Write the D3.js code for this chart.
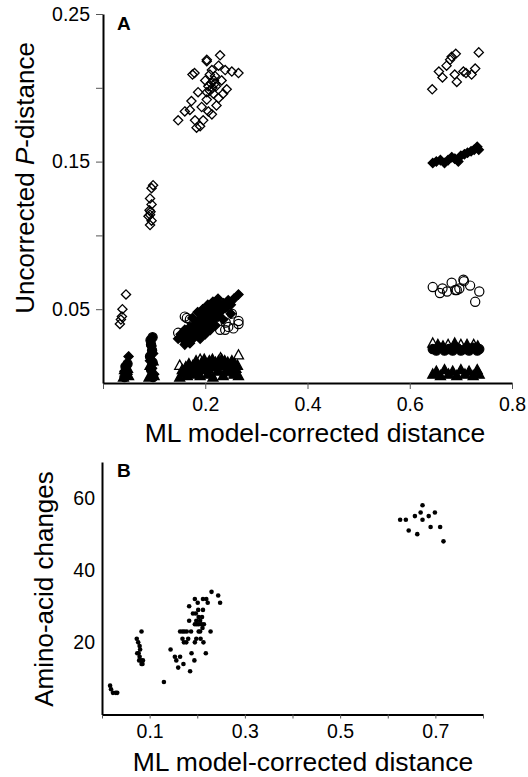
<!DOCTYPE html>
<html lang="en">
<head>
  <meta charset="UTF-8">
  <style>
    body { margin: 0; background: #fff; }
    svg { display: block; }
    text { font-family: "Liberation Sans", Arial, Helvetica, sans-serif; fill: #000; }
    .axis path.domain { stroke: #000; stroke-width: 2; }
    .axis .tick line { stroke: #555; stroke-width: 1; }
    .axis .tick text { font-size: 19.5px; }
  </style>
  <script src="https://d3js.org/d3.v7.min.js"></script>
</head>
<body>
  <svg id="chart" width="528" height="777"></svg>

  <script>
    // ---- Panel A data: [ML distance, uncorrected P-distance]
    const openDiamonds = [
      [0.035,0.043],[0.033,0.040],[0.037,0.045],[0.038,0.050],[0.045,0.060],
      [0.098,0.134],[0.095,0.132],[0.092,0.125],[0.095,0.121],[0.091,0.117],
      [0.093,0.116],[0.092,0.114],[0.089,0.113],[0.095,0.110],[0.092,0.107],
      [0.147,0.178],[0.160,0.184],[0.179,0.210],[0.203,0.218],[0.229,0.222],
      [0.265,0.210],[0.252,0.211],[0.183,0.173],[0.196,0.178],[0.213,0.182],
      [0.186,0.197],[0.173,0.191],[0.206,0.201],[0.219,0.203],[0.232,0.205],
      [0.242,0.199],[0.226,0.215],[0.213,0.212],[0.239,0.212],[0.200,0.205],
      [0.193,0.187],[0.206,0.184],[0.203,0.192],[0.226,0.193],[0.216,0.196],
      [0.180,0.178],[0.190,0.174],[0.170,0.185],[0.219,0.208],[0.209,0.209],
      [0.235,0.196],[0.222,0.188],[0.203,0.197],[0.203,0.219],[0.175,0.209],
      [0.211,0.203],[0.214,0.200],[0.217,0.205],[0.209,0.198],[0.221,0.201],
      [0.644,0.199],[0.657,0.211],[0.664,0.207],[0.672,0.215],[0.679,0.219],
      [0.682,0.221],[0.690,0.223],[0.688,0.209],[0.692,0.204],[0.705,0.211],
      [0.710,0.210],[0.721,0.209],[0.728,0.213],[0.735,0.224]
    ];
    const filledDiamonds = [
      [0.045,0.012],[0.050,0.018],[0.042,0.008],[0.048,0.006],
      [0.095,0.025],[0.098,0.020],[0.092,0.015],[0.096,0.010],[0.100,0.006],
      [0.147,0.030],[0.152,0.033],[0.158,0.029],[0.160,0.036],[0.165,0.032],
      [0.168,0.028],[0.170,0.038],[0.174,0.034],[0.176,0.030],[0.180,0.040],
      [0.183,0.036],[0.185,0.032],[0.188,0.043],[0.190,0.039],[0.192,0.035],
      [0.195,0.045],[0.197,0.041],[0.199,0.037],[0.201,0.047],[0.203,0.043],
      [0.205,0.039],[0.207,0.049],[0.209,0.045],[0.211,0.041],[0.213,0.051],
      [0.215,0.047],[0.218,0.043],[0.220,0.052],[0.223,0.048],[0.226,0.045],
      [0.229,0.053],[0.232,0.049],[0.236,0.054],[0.240,0.051],[0.245,0.056],
      [0.250,0.053],[0.256,0.057],[0.265,0.060],[0.175,0.044],[0.185,0.048],
      [0.195,0.050],[0.205,0.053],[0.215,0.055],[0.225,0.057],[0.190,0.030],
      [0.200,0.033],[0.210,0.036],[0.220,0.039],[0.235,0.043],[0.250,0.047],
      [0.160,0.026],[0.170,0.027],
      [0.645,0.149],[0.652,0.150],[0.660,0.151],[0.668,0.149],[0.675,0.151],
      [0.682,0.153],[0.688,0.152],[0.695,0.150],[0.700,0.154],[0.707,0.155],
      [0.713,0.156],[0.720,0.157],[0.726,0.158],[0.732,0.160],[0.735,0.158]
    ];
    const openCircles = [
      [0.147,0.034],[0.160,0.045],[0.164,0.044],[0.170,0.043],[0.229,0.036],
      [0.245,0.038],[0.265,0.042],[0.255,0.037],[0.239,0.036],[0.252,0.047],
      [0.265,0.040],[0.240,0.041],
      [0.645,0.065],[0.659,0.061],[0.664,0.064],[0.673,0.062],[0.682,0.068],
      [0.689,0.063],[0.692,0.063],[0.697,0.064],[0.705,0.070],[0.706,0.069],
      [0.718,0.066],[0.728,0.055],[0.736,0.062]
    ];
    const filledCircles = [
      [0.042,0.004],[0.046,0.007],[0.044,0.011],[0.048,0.013],
      [0.093,0.029],[0.097,0.031],[0.094,0.026],[0.096,0.022],[0.092,0.018],
      [0.097,0.014],[0.094,0.009],[0.098,0.004],
      [0.165,0.007],[0.185,0.009],[0.205,0.008],[0.225,0.010],[0.245,0.008],
      [0.645,0.023],[0.652,0.022],[0.660,0.024],[0.668,0.022],[0.676,0.023],
      [0.684,0.022],[0.692,0.024],[0.700,0.022],[0.708,0.023],[0.716,0.022],
      [0.724,0.024],[0.732,0.022],[0.736,0.023]
    ];
    const openTriangles = [
      [0.150,0.012],[0.190,0.016],[0.230,0.017],[0.265,0.019],
      [0.645,0.027],[0.675,0.026],[0.700,0.026],[0.725,0.026]
    ];
    const filledTriangles = [
      [0.040,0.004],[0.045,0.006],[0.050,0.005],[0.048,0.010],[0.042,0.009],
      [0.090,0.004],[0.095,0.006],[0.100,0.005],[0.092,0.012],[0.098,0.015],
      [0.150,0.004],[0.158,0.007],[0.165,0.005],[0.172,0.010],[0.178,0.006],
      [0.185,0.012],[0.190,0.005],[0.196,0.009],[0.200,0.013],[0.205,0.006],
      [0.210,0.011],[0.215,0.004],[0.220,0.014],[0.225,0.008],[0.230,0.012],
      [0.235,0.005],[0.240,0.013],[0.245,0.009],[0.250,0.012],[0.256,0.006],
      [0.260,0.010],[0.265,0.005],[0.168,0.013],[0.208,0.015],[0.238,0.015],
      [0.155,0.009],[0.162,0.011],[0.176,0.012],[0.182,0.015],[0.193,0.014],
      [0.198,0.016],[0.204,0.013],[0.214,0.016],[0.218,0.012],[0.226,0.015],
      [0.232,0.016],[0.244,0.014],[0.252,0.015],[0.258,0.013],[0.263,0.012],
      [0.645,0.006],[0.652,0.008],[0.660,0.005],[0.668,0.009],[0.676,0.006],
      [0.684,0.008],[0.692,0.005],[0.700,0.009],[0.708,0.006],[0.716,0.008],
      [0.724,0.005],[0.732,0.009],[0.736,0.006],
      [0.655,0.026],[0.665,0.025],[0.688,0.027],[0.712,0.026],[0.733,0.025]
    ];

    // ---- Panel B data: [ML distance, amino-acid changes]
    const aaChanges = [
      [0.017,8],[0.019,7],[0.023,6],[0.029,6],[0.032,6],
      [0.083,23],[0.073,21],[0.076,20],[0.079,19],[0.080,18],[0.074,17],
      [0.077,17],[0.079,16],[0.078,15],[0.082,15],[0.086,15],[0.083,14],[0.085,14],
      [0.130,9],
      [0.144,18],[0.153,16],[0.156,15],[0.160,13],[0.164,16],[0.171,14],
      [0.164,23],[0.169,23],[0.173,23],[0.178,23],[0.169,21],[0.172,20],
      [0.177,20],[0.181,21],[0.183,30],[0.185,12],[0.188,17],[0.194,15],
      [0.183,26],[0.187,23],[0.195,32],[0.197,28],[0.199,25],[0.201,31],
      [0.202,29],[0.203,27],[0.206,23],[0.207,21],[0.209,25],[0.210,27],
      [0.211,24],[0.212,29],[0.212,32],[0.203,23],[0.198,26],[0.195,25],
      [0.191,28],[0.203,25],[0.206,26],[0.218,17],[0.213,20],[0.219,32],
      [0.228,23],[0.222,31],[0.230,34],[0.244,33],[0.248,31],[0.214,25],
      [0.195,20],[0.198,21],
      [0.626,54],[0.638,54],[0.644,51],[0.657,55],[0.662,50],[0.669,56],
      [0.673,58],[0.673,54],[0.686,55],[0.690,52],[0.699,56],[0.710,52],[0.717,48]
    ];

    const ticksA_x = [0, 0.2, 0.4, 0.6, 0.8];
    const ticksA_y = [0.05, 0.10, 0.15, 0.20, 0.25];
    const labelsA_y = [0.05, 0.15, 0.25];
    const ticksB_x = [0, 0.1, 0.2, 0.3, 0.4, 0.5, 0.6, 0.7, 0.8];
    const labelsB_x = [0.1, 0.3, 0.5, 0.7];
    const ticksB_y = [20, 40, 60];

    const svg = d3.select('#chart');

    // marker shapes
    const diamond = 'M0,-4.6L4.6,0L0,4.6L-4.6,0Z';
    const triangle = 'M0,-5.2L5,4L-5,4Z';

    // ---------- Panel A ----------
    const xA = d3.scaleLinear().domain([0, 0.8]).range([103, 512]);
    const yA = d3.scaleLinear().domain([0, 0.25]).range([383, 14]);

    const gA = svg.append('g');

    function drawPath(data, d, fill, stroke) {
      gA.append('g').selectAll('path')
        .data(data)
        .enter().append('path')
        .attr('d', d)
        .attr('transform', p => `translate(${xA(p[0])},${yA(p[1])})`)
        .attr('fill', fill)
        .attr('stroke', stroke)
        .attr('stroke-width', 1.3);
    }
    function drawCircles(data, fill) {
      gA.append('g').selectAll('circle')
        .data(data)
        .enter().append('circle')
        .attr('cx', p => xA(p[0]))
        .attr('cy', p => yA(p[1]))
        .attr('r', 4.6)
        .attr('fill', fill)
        .attr('stroke', '#000')
        .attr('stroke-width', 1.2);
    }

    drawPath(openDiamonds, diamond, 'none', '#000');
    drawPath(filledDiamonds, diamond, '#000', '#000');
    drawCircles(openCircles, 'none');
    drawCircles(filledCircles, '#000');
    drawPath(openTriangles, triangle, 'none', '#000');
    drawPath(filledTriangles, triangle, '#000', '#000');

    gA.append('g')
      .attr('class', 'axis')
      .attr('transform', 'translate(0,383)')
      .call(d3.axisBottom(xA).tickValues(ticksA_x).tickSize(6).tickSizeOuter(0).tickPadding(8)
        .tickFormat(d => d === 0 ? '' : d3.format('.1f')(d)));

    gA.append('g')
      .attr('class', 'axis')
      .attr('transform', 'translate(103,0)')
      .call(d3.axisLeft(yA).tickValues(ticksA_y).tickSize(7).tickSizeOuter(0).tickPadding(6)
        .tickFormat(d => labelsA_y.some(v => Math.abs(v - d) < 1e-9) ? d3.format('.2f')(d) : ''));

    gA.append('text')
      .attr('x', 117).attr('y', 30)
      .attr('font-size', '19px').attr('font-weight', 'bold')
      .text('A');

    gA.append('text')
      .attr('x', 315).attr('y', 442)
      .attr('text-anchor', 'middle')
      .attr('font-size', '26.5px')
      .text('ML model-corrected distance');

    const yTitleA = gA.append('text')
      .attr('transform', 'translate(34,178) rotate(-90)')
      .attr('text-anchor', 'middle')
      .attr('font-size', '26px');
    yTitleA.append('tspan').text('Uncorrected ');
    yTitleA.append('tspan').attr('font-style', 'italic').text('P');
    yTitleA.append('tspan').text('-distance');

    // ---------- Panel B ----------
    const xB = d3.scaleLinear().domain([0, 0.8]).range([102, 483]);
    const yB = d3.scaleLinear().domain([0, 70]).range([714.5, 462]);

    const gB = svg.append('g');

    gB.append('g').selectAll('circle')
      .data(aaChanges)
      .enter().append('circle')
      .attr('cx', p => xB(p[0]))
      .attr('cy', p => yB(p[1]))
      .attr('r', 2.3)
      .attr('fill', '#000');

    gB.append('g')
      .attr('class', 'axis')
      .attr('transform', 'translate(0,714.5)')
      .call(d3.axisBottom(xB).tickValues(ticksB_x).tickSize(4).tickSizeOuter(0).tickPadding(6)
        .tickFormat(d => labelsB_x.some(v => Math.abs(v - d) < 1e-9) ? d3.format('.1f')(d) : ''));

    gB.append('g')
      .attr('class', 'axis')
      .attr('transform', 'translate(102,0)')
      .call(d3.axisLeft(yB).tickValues(ticksB_y).tickSize(0).tickSizeOuter(0).tickPadding(7));

    gB.append('text')
      .attr('x', 117).attr('y', 477)
      .attr('font-size', '19px').attr('font-weight', 'bold')
      .text('B');

    gB.append('text')
      .attr('x', 303).attr('y', 771)
      .attr('text-anchor', 'middle')
      .attr('font-size', '26.5px')
      .text('ML model-corrected distance');

    gB.append('text')
      .attr('transform', 'translate(53,589) rotate(-90)')
      .attr('text-anchor', 'middle')
      .attr('font-size', '26px')
      .text('Amino-acid changes');
  </script>
</body>
</html>
